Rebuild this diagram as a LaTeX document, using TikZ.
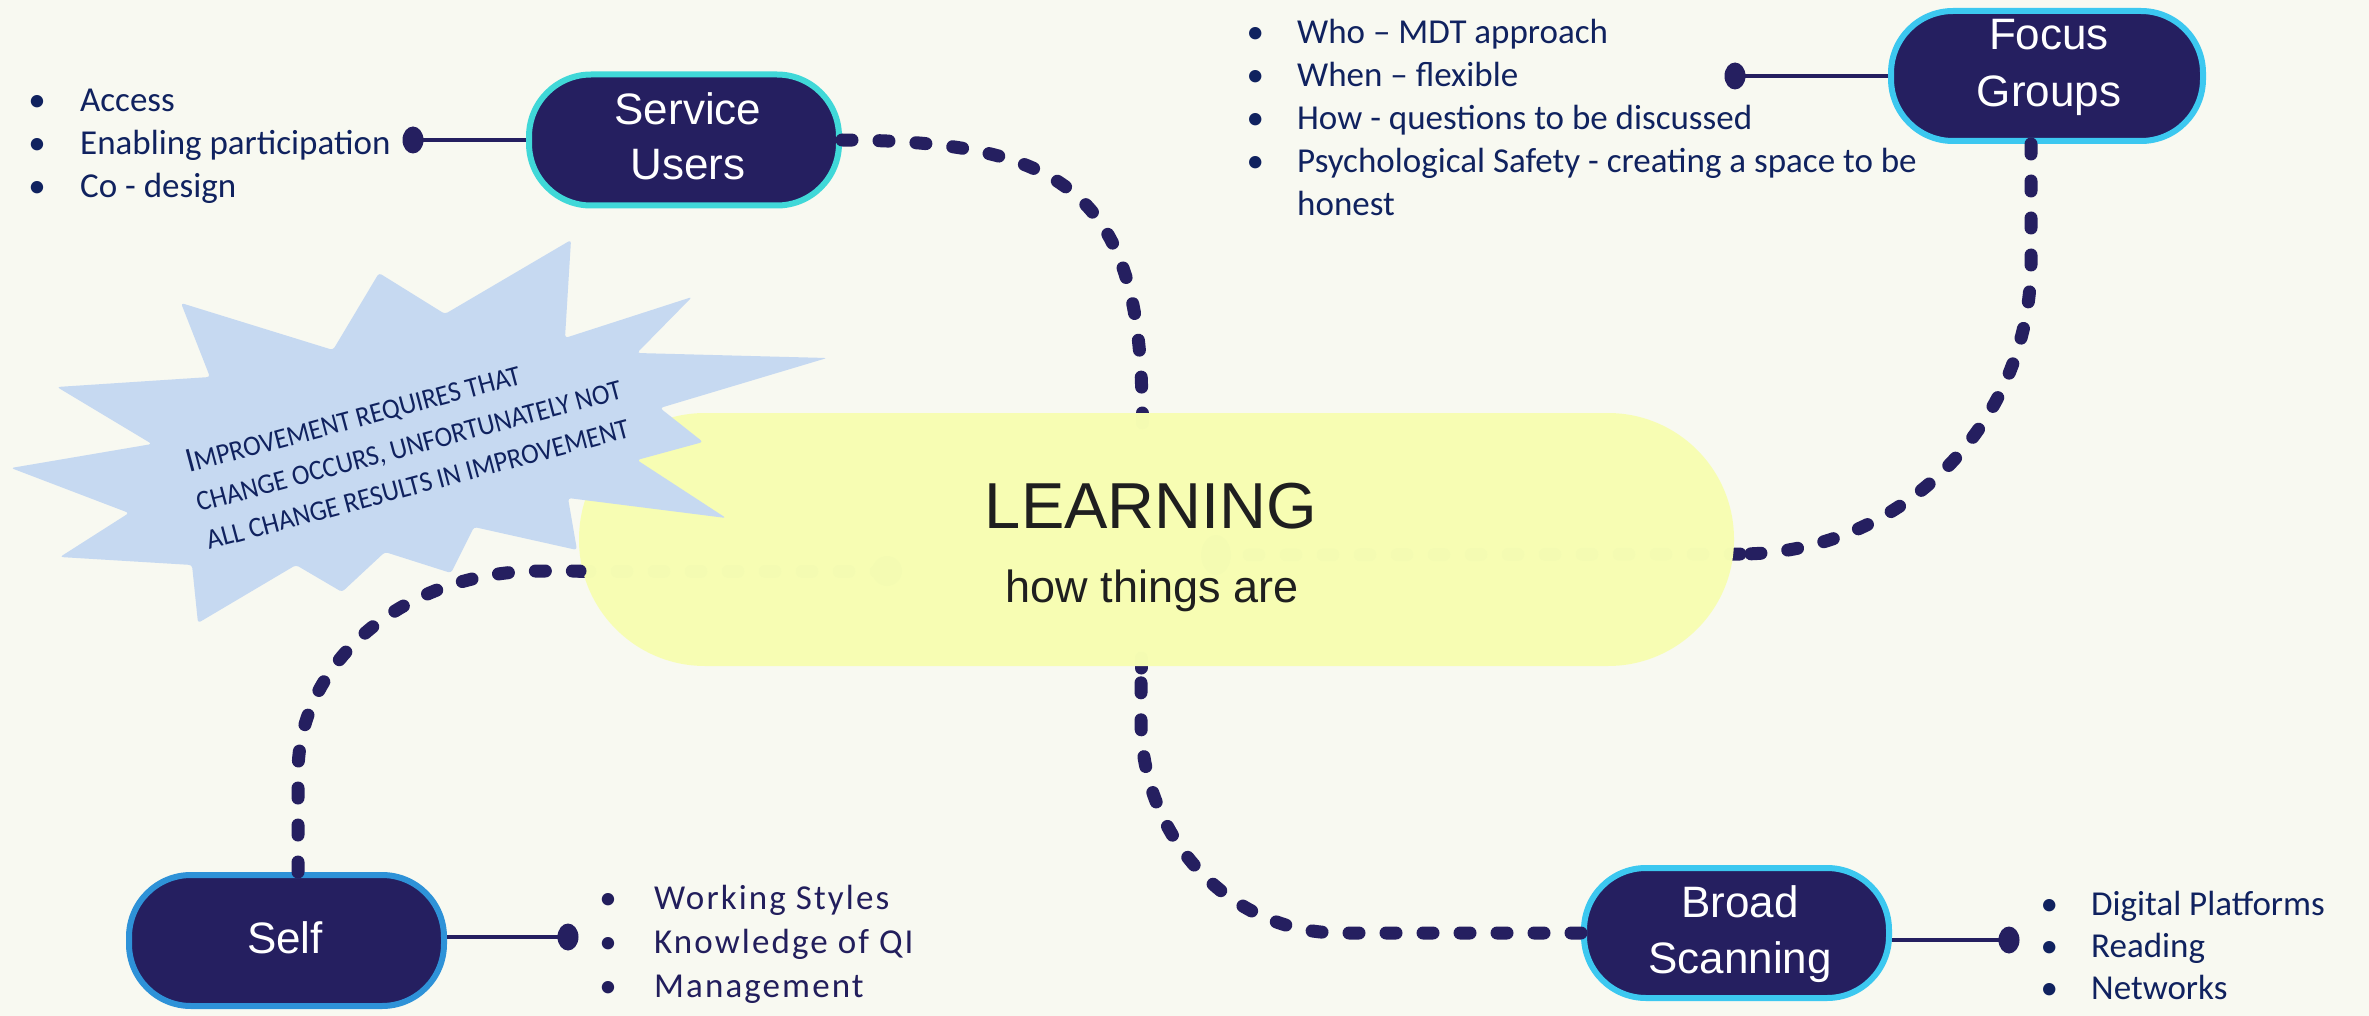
\documentclass[tikz,border=0pt]{standalone}
\usepackage{fontspec}
\setmainfont{Liberation Sans}
\newfontfamily\calfont{Carlito}
\newfontfamily\calscfont{Carlito}[FakeStretch=0.93]
\definecolor{bg}{HTML}{F8F9F1}
\definecolor{navy}{HTML}{251F60}
\definecolor{txtblue}{HTML}{10225F}
\definecolor{selfblue}{HTML}{221E5C}
\definecolor{yel}{HTML}{F7FEB3}
\definecolor{burst}{HTML}{C6D9F1}
\definecolor{cyanA}{HTML}{40D8D8}
\definecolor{cyanB}{HTML}{3CC8F0}
\definecolor{blueC}{HTML}{2E92D8}
\newcommand\bulat[1]{\llap{\makebox[0pt][c]{•}\hspace{#1pt}}}
\newcommand\sclet[1]{{\fontsize{28.5}{28.5}\selectfont #1}}
\begin{document}
\begin{tikzpicture}[x=1pt,y=-1pt,
  dots/.style={navy, line width=13pt, line cap=round, dash pattern=on 10pt off 27pt},
  topic/.style={draw, line width=6pt, fill=navy, rounded corners=62pt, inner sep=0pt, minimum height=131pt},
  ttext/.style={anchor=base, inner sep=0pt, text=white, font=\fontsize{44}{44}\selectfont},
  conn/.style={navy, line width=4.5pt},
  bl/.style={anchor=base west, inner sep=0pt, text=txtblue, font=\calfont\fontsize{35}{35}\selectfont},
  sbt/.style={anchor=base west, inner sep=0pt, text=txtblue, rotate=15, font=\calscfont}
]
\fill[bg] (0,0) rectangle (2369,1016);
\useasboundingbox (0,0) rectangle (2369,1016);

% junction points on the edge of the central shape
\coordinate (suJ) at (1142,413);
\coordinate (suIn) at (1142,440);
\coordinate (fgJ) at (1740,554);
\coordinate (fgIn) at (1216,555);
\coordinate (sfJ) at (580,571);
\coordinate (sfIn) at (887,571);
\coordinate (bsJ) at (1141,668);
\coordinate (bsIn) at (1141,640);

% inner parts of the dotted connectors (seen faintly through the central shape)
\draw[dots] (suJ) -- (suIn);
\draw[dots] (fgJ) -- (fgIn);
\fill[navy] (fgIn) ellipse (15 and 20);
\draw[dots] (sfJ) -- (sfIn);
\fill[navy] (sfIn) ellipse (15 and 15);
\draw[dots] (bsJ) -- (bsIn);

% central shape
\node[fill=yel, fill opacity=0.988, rounded corners=126pt, minimum width=1155pt, minimum height=253pt, inner sep=0pt] (learn) at (1156.5,539.5) {};
\node[anchor=base, inner sep=0pt, text=black!88, font=\fontsize{65}{65}\selectfont] (lt1) at (1151,528) {LEARNING};
\node[anchor=base, inner sep=0pt, text=black!88, font=\fontsize{45}{45}\selectfont] (lt2) at (1152,602) {how things are};

% starburst
\fill[burst, rounded corners=3pt] (571,240) -- (565,338) -- (692,297) -- (637,353) -- (827,358) -- (660,408) -- (703,442) -- (637,460) -- (726,518) -- (568,498) -- (577,550) -- (474,527) -- (451,573) -- (385,552) -- (342,592) -- (296,565) -- (198,623) -- (192,565) -- (60,557) -- (129,513) -- (11,468) -- (152,444) -- (57,387) -- (210,377) -- (181,303) -- (333,350) -- (379,273) -- (445,314) -- cycle;
\node[sbt] (sb1) at (189,473) {{\fontsize{35}{35}\selectfont I}\sclet{MPROVEMENT REQUIRES THAT}};
\node[sbt] (sb2) at (199,512) {\sclet{CHANGE OCCURS, UNFORTUNATELY NOT}};
\node[sbt] (sb3) at (209,550) {\sclet{ALL CHANGE RESULTS IN IMPROVEMENT}};

% topic nodes
\node[topic, draw=cyanA, minimum width=310pt] (su) at (684,140) {};
\node[topic, draw=cyanB, minimum width=312pt, minimum height=130pt] (fg) at (2047,76) {};
\node[topic, draw=blueC, minimum width=315pt] (sf) at (286.5,940.5) {};
\node[topic, draw=cyanB, minimum width=305pt, minimum height=130pt] (bs) at (1736.5,933) {};

% outer parts of the dotted connectors
\draw[dots] (su.east) .. controls (1060,141) and (1142,190) .. (suJ);
\draw[dots] ([xshift=-16pt]fg.south) -- (2031,262) .. controls (2031,423) and (1901,554) .. (fgJ);
\draw[dots] ([xshift=11.5pt]sf.north) -- (298,773) .. controls (298,661) and (406,571) .. (540,571) -- (sfJ);
\draw[dots] (bs.west) -- (1340,933) .. controls (1230,933) and (1141,838) .. (1141,720) -- (bsJ);

% topic texts
\node[ttext] (su1) at (688,125) {Service};
\node[ttext] (su2) at (688,180) {Users};
\node[ttext] (fg1) at (2049,50) {Focus};
\node[ttext] (fg2) at (2049,107) {Groups};
\node[ttext] (sf1) at (285,953) {Self};
\node[ttext] (bs1) at (1740,917) {Broad};
\node[ttext] (bs2) at (1740,973) {Scanning};

% short connectors with end dots
\coordinate (suDot) at (413,140);
\coordinate (fgDot) at (1735,76);
\coordinate (sfDot) at (568,937);
\coordinate (bsDot) at (2009,940);
\draw[conn] (su.west) -- (suDot);
\draw[conn] (fg.west) -- (fgDot);
\draw[conn] (sf.east |- sfDot) -- (sfDot);
\draw[conn] (bs.east |- bsDot) -- (bsDot);
\foreach \d in {suDot,fgDot,sfDot,bsDot} \fill[navy] (\d) ellipse (10.5 and 13.5);

% bullet lists
\node[bl] (a1) at (80,112) {\bulat{43}Access};
\node[bl] (a2) at (80,155) {\bulat{43}Enabling participation};
\node[bl] (a3) at (80,198) {\bulat{43}Co - design};

\node[bl] (b1) at (1297,44) {\bulat{42}Who – MDT approach};
\node[bl] (b2) at (1297,87) {\bulat{42}When – flexible};
\node[bl] (b3) at (1297,130) {\bulat{42}How - questions to be discussed};
\node[bl] (b4) at (1297,173) {\bulat{42}Psychological Safety - creating a space to be};
\node[bl] (b5) at (1297,216) {honest};

\node[bl, text=selfblue] (c1) at (654,909) {\bulat{46}\addfontfeature{LetterSpace=6}Working Styles};
\node[bl, text=selfblue] (c2) at (654,953) {\bulat{46}\addfontfeature{LetterSpace=6}Knowledge of QI};
\node[bl, text=selfblue] (c3) at (654,997) {\bulat{46}\addfontfeature{LetterSpace=6}Management};

\node[bl] (d1) at (2091,915) {\bulat{42}Digital Platforms};
\node[bl] (d2) at (2091,957) {\bulat{42}Reading};
\node[bl] (d3) at (2091,999) {\bulat{42}Networks};
\end{tikzpicture}
\end{document}
